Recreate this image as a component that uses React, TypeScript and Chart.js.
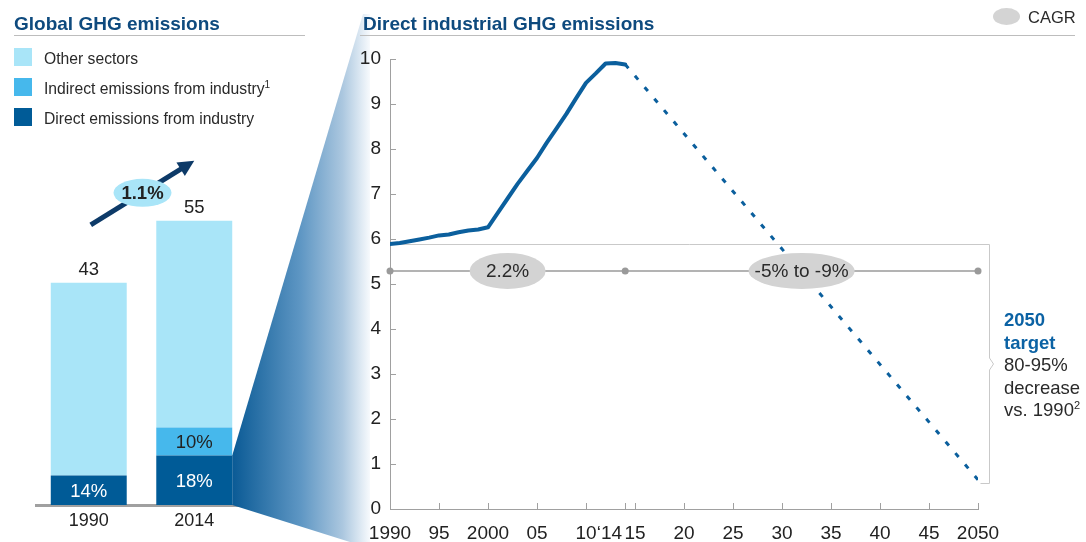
import React, { useEffect, useRef } from "react";
import { Chart, registerables } from "chart.js";

Chart.register(...registerables);

const FONT = "'Liberation Sans', Arial, Helvetica, sans-serif";

// ---------- Left panel: Global GHG emissions (Gt CO2e) ----------
const barYears = ["1990", "2014"];
const directIndustry = [5.7, 9.6];
const indirectIndustry = [0, 5.4];
const otherSectors = [37.3, 40.0];
const barTotals = ["43", "55"];
const directLabels = ["14%", "18%"];
const indirectLabels = ["", "10%"];
const globalCagrLabel = "1.1%";

// ---------- Right panel: Direct industrial GHG emissions ----------
const histYears = [
  1990, 1991, 1992, 1993, 1994, 1995, 1996, 1997, 1998, 1999, 2000, 2001,
  2002, 2003, 2004, 2005, 2006, 2007, 2008, 2009, 2010, 2011, 2012, 2013, 2014,
];
const histValues = [
  5.89, 5.91, 5.95, 5.99, 6.03, 6.08, 6.1, 6.15, 6.19, 6.21, 6.26, 6.58,
  6.9, 7.22, 7.51, 7.8, 8.14, 8.46, 8.78, 9.13, 9.47, 9.68, 9.9, 9.91, 9.88,
];
const projYears = [2014, 2050];
const projValues = [9.88, 0.65];
const cagrYears = [1990, 2014, 2050];
const cagrLevel = 5.29;
const cagrLabels = ["2.2%", "-5% to -9%"];
const cagrLabelYears = [2002, 2032];
const cagrLabelWidths = [76, 106];
const targetLevel = 0.58;
const xTickValues = [1990, 1995, 2000, 2005, 2010, 2014, 2015, 2020, 2025, 2030, 2035, 2040, 2045, 2050];
const xTickLabels = ["1990", "95", "2000", "05", "10", "\u201814      ", "15", "20", "25", "30", "35", "40", "45", "2050"];
const yTickValues = [0, 1, 2, 3, 4, 5, 6, 7, 8, 9, 10];

const DARK = "#005b97";
const MID = "#46b8ec";
const LIGHT = "#a9e5f8";
const LINE = "#0b5f9d";
const AXIS = "#a0a0a0";

const leftPlugin = {
  id: "leftDeco",
  beforeDatasetsDraw(chart: any) {
    const ctx = chart.ctx;
    const el = chart.getDatasetMeta(0).data[1];
    const p = el.getProps(["x", "y", "base", "width"], true);
    const x0 = p.x + p.width / 2;
    ctx.save();
    const g = ctx.createLinearGradient(x0, 0, 370, 0);
    g.addColorStop(0, "#0a5a95");
    g.addColorStop(0.5, "#5f97c4");
    g.addColorStop(0.8, "#abc7df");
    g.addColorStop(1, "#f7fafd");
    ctx.fillStyle = g;
    ctx.beginPath();
    ctx.moveTo(x0, p.y);
    ctx.lineTo(363, 14);
    ctx.lineTo(370, 14);
    ctx.lineTo(370, 542);
    ctx.lineTo(350, 542);
    ctx.lineTo(x0, p.base);
    ctx.closePath();
    ctx.fill();
    ctx.restore();
  },
  afterDatasetsDraw(chart: any) {
    const ctx = chart.ctx;
    const xs = chart.scales.x;
    const ys = chart.scales.y;
    ctx.save();
    ctx.textAlign = "center";
    ctx.textBaseline = "middle";
    ctx.font = `18.5px ${FONT}`;
    const topMeta = chart.getDatasetMeta(2).data;
    ctx.fillStyle = "#222";
    barTotals.forEach((t, i) => {
      const el = topMeta[i];
      ctx.fillText(t, el.x, el.y - 13);
    });
    ctx.fillStyle = "#ffffff";
    const dMeta = chart.getDatasetMeta(0).data;
    directLabels.forEach((t, i) => {
      const el = dMeta[i];
      if (t) ctx.fillText(t, el.x, (el.y + el.base) / 2 + 2);
    });
    ctx.fillStyle = "#222";
    const iMeta = chart.getDatasetMeta(1).data;
    indirectLabels.forEach((t, i) => {
      const el = iMeta[i];
      if (t) ctx.fillText(t, el.x, (el.y + el.base) / 2 + 1);
    });

    // growth arrow
    const tx = xs.getPixelForValue(0) + 2;
    const ty = ys.getPixelForValue(54.2);
    const hx = xs.getPixelForValue(1);
    const hy = ys.getPixelForValue(66.6);
    const dx = hx - tx;
    const dy = hy - ty;
    const len = Math.sqrt(dx * dx + dy * dy);
    const ux = dx / len;
    const uy = dy / len;
    const headLen = 16;
    const headHalf = 8;
    const bx = hx - ux * headLen;
    const by = hy - uy * headLen;
    ctx.strokeStyle = "#0d3a68";
    ctx.fillStyle = "#0d3a68";
    ctx.lineWidth = 5;
    ctx.beginPath();
    ctx.moveTo(tx, ty);
    ctx.lineTo(bx + ux * 2, by + uy * 2);
    ctx.stroke();
    ctx.beginPath();
    ctx.moveTo(hx, hy);
    ctx.lineTo(bx - uy * headHalf, by + ux * headHalf);
    ctx.lineTo(bx + uy * headHalf, by - ux * headHalf);
    ctx.closePath();
    ctx.fill();

    const cx = (tx + hx) / 2;
    const cy = (ty + hy) / 2;
    ctx.fillStyle = LIGHT;
    ctx.beginPath();
    ctx.ellipse(cx, cy, 29, 14, 0, 0, Math.PI * 2);
    ctx.fill();
    ctx.fillStyle = "#222";
    ctx.font = `bold 18.5px ${FONT}`;
    ctx.fillText(globalCagrLabel, cx, cy + 1);
    ctx.restore();
  },
};

const rightPlugin = {
  id: "rightDeco",
  beforeDatasetsDraw(chart: any) {
    const { ctx, chartArea } = chart;
    const xs = chart.scales.x;
    const ys = chart.scales.y;
    ctx.save();
    ctx.strokeStyle = AXIS;
    ctx.lineWidth = 1;
    ctx.beginPath();
    xTickValues.forEach((v) => {
      const px = Math.round(xs.getPixelForValue(v)) + 0.5;
      ctx.moveTo(px, chartArea.bottom);
      ctx.lineTo(px, chartArea.bottom - 6);
    });
    yTickValues.forEach((v) => {
      if (v === 0) return;
      const py = Math.round(ys.getPixelForValue(v)) + 0.5;
      ctx.moveTo(chartArea.left, py);
      ctx.lineTo(chartArea.left + 6, py);
    });
    ctx.stroke();

    // 1990 level and bracket to 2050 target
    const bx = Math.round(xs.getPixelForValue(2050) + 11) + 0.5;
    const y0 = Math.round(ys.getPixelForValue(histValues[0])) + 0.5;
    const y1 = Math.round(ys.getPixelForValue(targetLevel)) + 0.5;
    const ym = (y0 + y1) / 2;
    ctx.strokeStyle = "#c9c9c9";
    ctx.beginPath();
    ctx.moveTo(chartArea.left, y0);
    ctx.lineTo(bx, y0);
    ctx.lineTo(bx, ym - 6);
    ctx.lineTo(bx + 4, ym);
    ctx.lineTo(bx, ym + 6);
    ctx.lineTo(bx, y1);
    ctx.lineTo(bx - 9, y1);
    ctx.stroke();
    ctx.restore();
  },
  afterDatasetsDraw(chart: any) {
    const ctx = chart.ctx;
    const xs = chart.scales.x;
    const ys = chart.scales.y;
    ctx.save();
    ctx.textAlign = "center";
    ctx.textBaseline = "middle";
    ctx.font = `19px ${FONT}`;
    cagrLabels.forEach((t, i) => {
      const cx = xs.getPixelForValue(cagrLabelYears[i]);
      const cy = ys.getPixelForValue(cagrLevel);
      ctx.fillStyle = "#d3d3d3";
      ctx.beginPath();
      ctx.ellipse(cx, cy, cagrLabelWidths[i] / 2, 18, 0, 0, Math.PI * 2);
      ctx.fill();
      ctx.fillStyle = "#2a2a2a";
      ctx.fillText(t, cx, cy + 1);
    });
    ctx.restore();
  },
};

export default function App() {
  const leftRef = useRef<HTMLCanvasElement>(null);
  const rightRef = useRef<HTMLCanvasElement>(null);

  useEffect(() => {
    const left = new Chart(leftRef.current as HTMLCanvasElement, {
      type: "bar",
      data: {
        labels: barYears,
        datasets: [
          { label: "Direct emissions from industry", data: directIndustry, backgroundColor: DARK },
          { label: "Indirect emissions from industry", data: indirectIndustry, backgroundColor: MID },
          { label: "Other sectors", data: otherSectors, backgroundColor: LIGHT },
        ],
      },
      options: {
        responsive: false,
        animation: false,
        events: [],
        layout: { padding: { left: 36, right: 133, top: 14, bottom: 0 } },
        datasets: { bar: { barPercentage: 1, categoryPercentage: 0.72, borderWidth: 0 } },
        plugins: { legend: { display: false }, tooltip: { enabled: false } },
        scales: {
          x: {
            stacked: true,
            grid: { display: false, drawTicks: false },
            border: { display: true, color: AXIS, width: 3 },
            ticks: { padding: 5, color: "#222", font: { family: FONT, size: 18 } },
            afterFit: (s: any) => {
              s.height = 37;
            },
          },
          y: { stacked: true, display: false, min: 0, max: 95 },
        },
      } as any,
      plugins: [leftPlugin],
    });

    const right = new Chart(rightRef.current as HTMLCanvasElement, {
      type: "line",
      data: {
        datasets: [
          {
            label: "Historical",
            data: histYears.map((x, i) => ({ x, y: histValues[i] })),
            borderColor: LINE,
            borderWidth: 4,
            pointRadius: 0,
            tension: 0,
            borderCapStyle: "round",
            borderJoinStyle: "round",
          },
          {
            label: "Projection",
            data: projYears.map((x, i) => ({ x, y: projValues[i] })),
            borderColor: LINE,
            borderWidth: 3,
            borderDash: [5, 10],
            pointRadius: 0,
          },
          {
            label: "CAGR",
            data: cagrYears.map((x) => ({ x, y: cagrLevel })),
            borderColor: "#9a9a9a",
            borderWidth: 1.5,
            pointRadius: 3.5,
            pointBackgroundColor: "#9a9a9a",
            pointBorderWidth: 0,
            clip: false,
          },
        ],
      },
      options: {
        responsive: false,
        animation: false,
        events: [],
        layout: { padding: { left: 0, right: 108, top: 59, bottom: 0 } },
        plugins: { legend: { display: false }, tooltip: { enabled: false } },
        scales: {
          x: {
            type: "linear",
            min: 1990,
            max: 2050,
            afterBuildTicks: (s: any) => {
              s.ticks = xTickValues.map((v) => ({ value: v }));
            },
            grid: { display: false, drawTicks: false },
            border: { display: true, color: AXIS, width: 1 },
            ticks: {
              autoSkip: false,
              maxRotation: 0,
              minRotation: 0,
              padding: 13,
              color: "#222",
              font: { family: FONT, size: 19 },
              callback: (v: any) => xTickLabels[xTickValues.indexOf(Number(v))],
            },
            afterFit: (s: any) => {
              s.height = 33;
            },
          },
          y: {
            min: 0,
            max: 10,
            afterBuildTicks: (s: any) => {
              s.ticks = yTickValues.map((v) => ({ value: v }));
            },
            grid: { display: false, drawTicks: false },
            border: { display: true, color: AXIS, width: 1 },
            ticks: { padding: 9, color: "#222", font: { family: FONT, size: 19 } },
            afterFit: (s: any) => {
              s.width = 50;
            },
          },
        },
      } as any,
      plugins: [rightPlugin],
    });

    return () => {
      left.destroy();
      right.destroy();
    };
  }, []);

  const abs: React.CSSProperties = { position: "absolute", whiteSpace: "nowrap" };
  const legendItems = [
    { color: LIGHT, text: "Other sectors", sup: "" },
    { color: MID, text: "Indirect emissions from industry", sup: "1" },
    { color: DARK, text: "Direct emissions from industry", sup: "" },
  ];

  return (
    <div
      style={{
        position: "absolute",
        left: 0,
        top: 0,
        width: 1086,
        height: 542,
        overflow: "hidden",
        background: "#ffffff",
        fontFamily: FONT,
        color: "#222",
      }}
    >
      <canvas ref={leftRef} width={380} height={542} style={{ position: "absolute", left: 0, top: 0 }} />
      <canvas ref={rightRef} width={746} height={542} style={{ position: "absolute", left: 340, top: 0 }} />

      <div style={{ ...abs, left: 14, top: 12.5, fontSize: 19, lineHeight: "22px", fontWeight: 700, color: "#0e4a7e" }}>
        Global GHG emissions
      </div>
      <div style={{ ...abs, left: 14, top: 35, width: 291, height: 1, background: "#bdbdbd" }} />
      {legendItems.map((it, i) => (
        <React.Fragment key={it.text}>
          <div style={{ ...abs, left: 14, top: 48 + i * 30, width: 18, height: 18, background: it.color }} />
          <div style={{ ...abs, left: 44, top: 48.6 + i * 30, fontSize: 15.7, lineHeight: "20px", color: "#2a2a2a" }}>
            {it.text}
            {it.sup ? (
              <span style={{ fontSize: 10, position: "relative", top: -6 }}>{it.sup}</span>
            ) : null}
          </div>
        </React.Fragment>
      ))}

      <div style={{ ...abs, left: 363, top: 13, fontSize: 19, lineHeight: "22px", fontWeight: 700, color: "#0e4a7e" }}>
        Direct industrial GHG emissions
      </div>
      <div style={{ ...abs, left: 360, top: 35, width: 715, height: 1, background: "#bdbdbd" }} />
      <div style={{ ...abs, left: 993, top: 8, width: 27, height: 17, borderRadius: "50%", background: "#d4d4d4" }} />
      <div style={{ ...abs, left: 1028, top: 7, fontSize: 16.5, lineHeight: "20px", color: "#2a2a2a" }}>CAGR</div>

      <div style={{ ...abs, left: 1004, top: 309.3, fontSize: 18.5, lineHeight: "22.5px", color: "#2a2a2a" }}>
        <div style={{ fontWeight: 700, color: "#0b62a4" }}>2050</div>
        <div style={{ fontWeight: 700, color: "#0b62a4" }}>target</div>
        <div>80-95%</div>
        <div>decrease</div>
        <div>
          vs. 1990<span style={{ fontSize: 11, position: "relative", top: -7 }}>2</span>
        </div>
      </div>
    </div>
  );
}
